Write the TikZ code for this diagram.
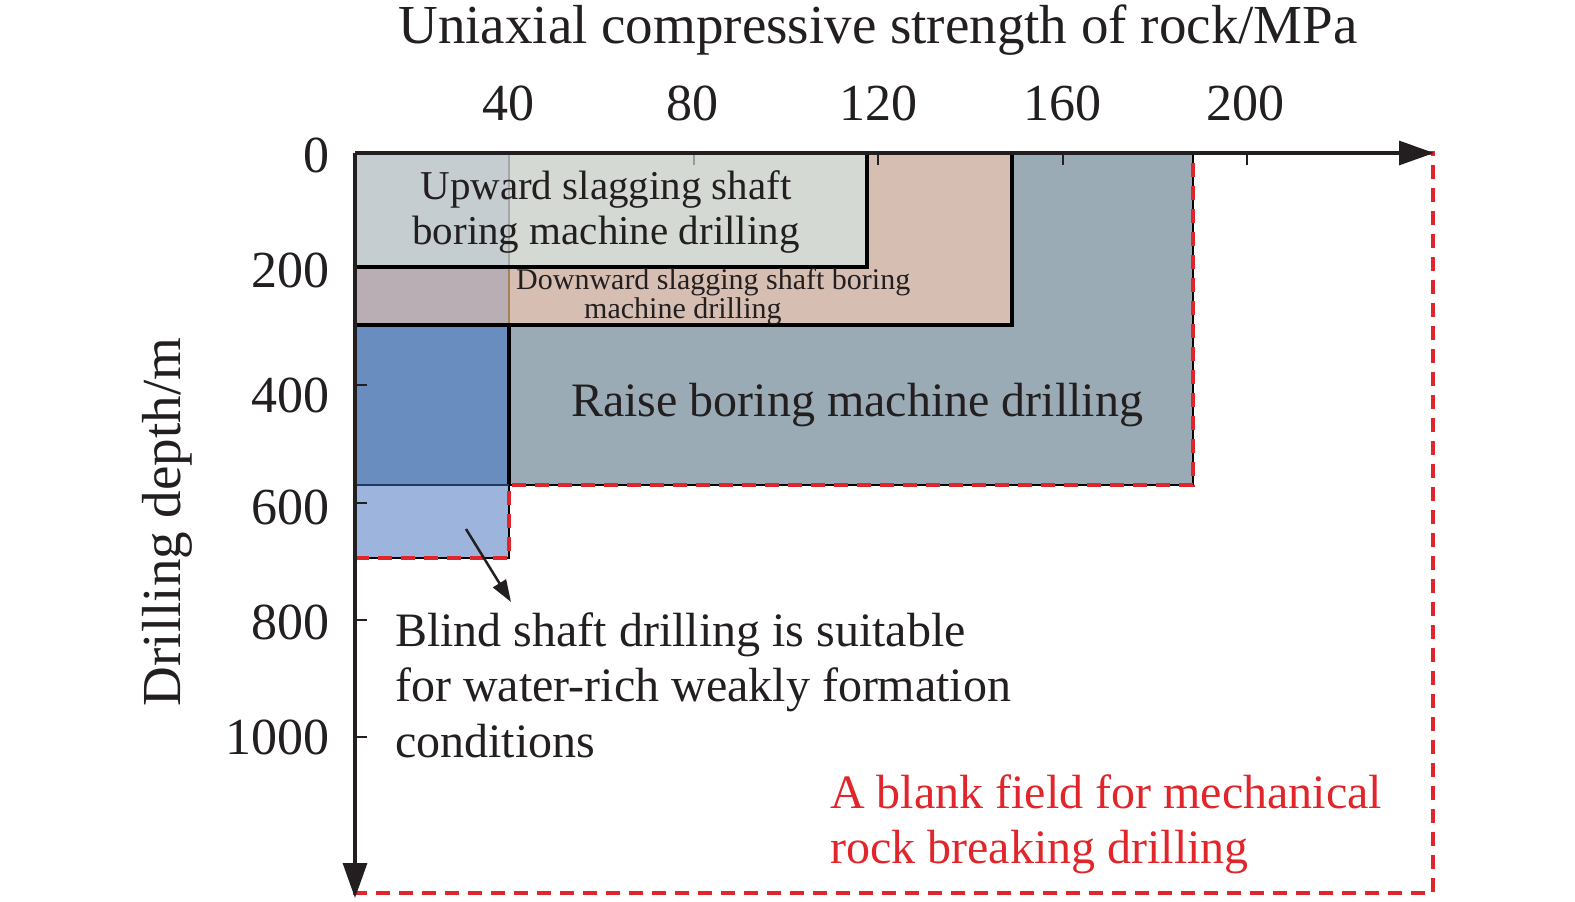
\documentclass[tikz,border=0pt]{standalone}
\usepackage{fontspec}
\setmainfont{Liberation Serif}
\usetikzlibrary{arrows.meta}
\definecolor{raisec}{HTML}{9AABB5}
\definecolor{downc}{HTML}{D6BFB2}
\definecolor{downl}{HTML}{B8AEB4}
\definecolor{upc}{HTML}{D4D9D4}
\definecolor{upl}{HTML}{C5CDD1}
\definecolor{blindu}{HTML}{6A8DC0}
\definecolor{blindl}{HTML}{9DB5DD}
\definecolor{navy}{HTML}{1F3A60}
\definecolor{redd}{HTML}{E0262B}
\definecolor{txt}{HTML}{231F20}
\tikzset{
  boxline/.style={line width=3.2pt, draw=black},
  thinline/.style={line width=1.5pt, draw=black},
  reddash/.style={line width=3.5pt, draw=redd, dash pattern=on 14pt off 9pt},
  axisline/.style={line width=3.2pt, draw=txt, -{Triangle[length=35pt,width=24pt]}},
  tickline/.style={line width=2.5pt, draw=txt},
  ticklab/.style={font=\fontsize{52}{52}\selectfont, text=txt, inner sep=0pt},
  big/.style={font=\fontsize{48}{55.5}\selectfont, text=txt, inner sep=0pt},
}
\begin{document}
\begin{tikzpicture}[x=1pt,y=-1pt]
\useasboundingbox (0,0) rectangle (1575,902);
% fills
\fill[raisec] (355,153) rectangle (1193,485);
\fill[downc] (355,153) rectangle (1012,325);
\fill[downl] (355,267) rectangle (509,325);
\fill[upc] (355,153) rectangle (867,267);
\fill[upl] (355,153) rectangle (509,267);
\fill[blindu] (355,325) rectangle (509,485);
\fill[blindl] (355,485) rectangle (509,558);
% faint divider
\draw[line width=1.8pt, draw=gray!70] (509,153) -- (509,267);
\draw[line width=1.8pt, draw=brown!60!gray] (509,267) -- (509,325);
% ticks
\draw[line width=2.5pt, draw=gray!80] (694,153) -- (694,165);
\foreach \x in {878,1063,1247} \draw[tickline] (\x,153) -- (\x,165);
\foreach \y in {385,503,620,737} \draw[tickline] (355,\y) -- (367,\y);
% outlines
\draw[thinline] (509,485) -- (1193,485) -- (1193,153);
\draw[thinline] (509,485) -- (509,558) -- (355,558);
\draw[boxline] (355,325) -- (1012,325) -- (1012,153);
\draw[boxline] (355,267) -- (867,267) -- (867,153);
\draw[boxline] (509,325) -- (509,485);
\draw[line width=2.5pt, draw=navy] (355,485) -- (509,485);
% blank field
\draw[reddash] (355,558) -- (509,558) -- (509,485) -- (1193,485) -- (1193,153) -- (1433,153) -- (1433,893) -- (355,893) -- cycle;
% axes
\coordinate (O) at (355,153);
\coordinate (XE) at (1434,153);
\coordinate (YE) at (355,898);
\draw[axisline] (O) -- (XE);
\draw[axisline] (O) -- (YE);
% axis labels
\node[font=\fontsize{55}{55}\selectfont, text=txt, inner sep=0pt] (xt) at (878,30) {Uniaxial compressive strength of rock/MPa};
\node[font=\fontsize{55}{55}\selectfont, text=txt, inner sep=0pt, rotate=90] (yt) at (167,522) {Drilling depth/m};
\node[ticklab] (x40) at (508,103) {40};
\node[ticklab] (x80) at (692,103) {80};
\node[ticklab] (x120) at (878,103) {120};
\node[ticklab] (x160) at (1062,103) {160};
\node[ticklab] (x200) at (1245,103) {200};
\node[ticklab, anchor=east] (y0) at (330,155) {0};
\node[ticklab, anchor=east] (y200) at (330,270) {200};
\node[ticklab, anchor=east] (y400) at (330,395) {400};
\node[ticklab, anchor=east] (y600) at (330,507) {600};
\node[ticklab, anchor=east] (y800) at (330,622) {800};
\node[ticklab, anchor=east] (y1000) at (330,737) {1000};
% region labels
\node[font=\fontsize{41}{45}\selectfont, text=txt, inner sep=0pt, align=center] (up) at (606,212) {Upward slagging shaft\\boring machine drilling};
\node[font=\fontsize{30}{29}\selectfont, text=txt, inner sep=0pt, align=left, anchor=west] (down) at (516,297) {Downward slagging shaft boring\\\hspace*{68pt}machine drilling};
\node[big] (raise) at (857,405) {Raise boring machine drilling};
\node[big, align=left, anchor=north west] (blind) at (395,612) {Blind shaft drilling is suitable\\for water-rich weakly formation\\conditions};
\node[big, text=redd, align=left, anchor=north west] (blank) at (830,774) {A blank field for mechanical\\rock breaking drilling};
% pointer arrow
\coordinate (ps) at (466,529);
\coordinate (pe) at (511,602);
\draw[line width=2.5pt, draw=txt, -{Triangle[length=22pt,width=15pt]}] (ps) -- (pe);
\end{tikzpicture}
\end{document}
